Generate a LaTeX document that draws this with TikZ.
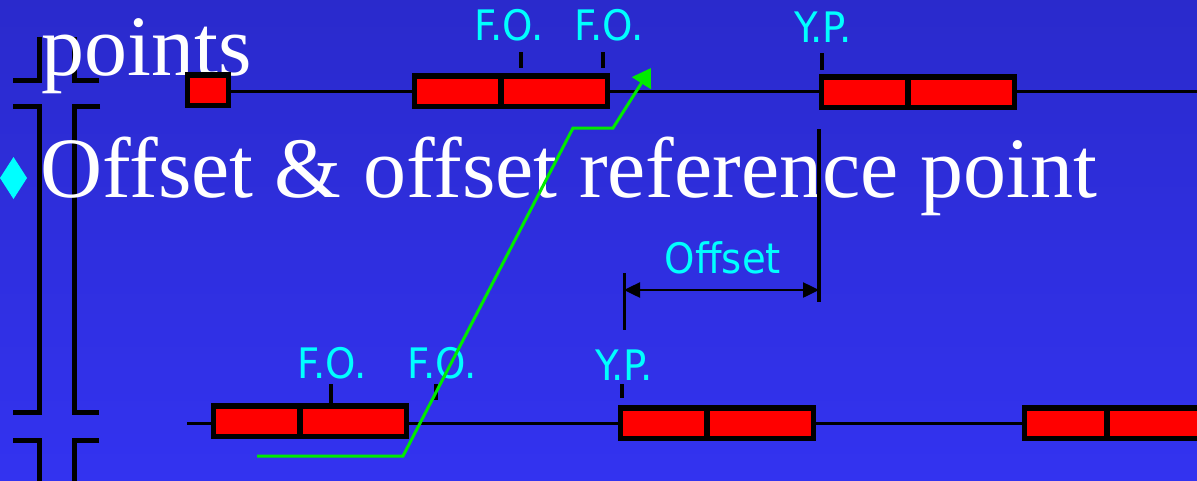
\documentclass[tikz,border=0pt]{standalone}
\usepackage{fontspec}
\setmainfont{Liberation Serif}
\newfontfamily\labfont[FakeStretch=0.92]{DejaVu Sans}
\usetikzlibrary{arrows.meta}
\definecolor{bgtop}{RGB}{42,42,204}
\definecolor{bgbot}{RGB}{51,51,240}
\definecolor{labc}{RGB}{0,255,255}
\definecolor{grn}{RGB}{0,235,0}
\begin{document}
\begin{tikzpicture}[x=1pt,y=-1pt,
  half/.style={draw=black, fill=red, line width=5.5pt, inner sep=0pt, outer sep=0pt, minimum height=30.5pt},
  lab/.style={text=labc, font=\labfont\fontsize{42}{42}\selectfont, inner sep=0pt, anchor=base},
  big/.style={text=white, font=\fontsize{86}{86}\selectfont, inner sep=0pt, anchor=base west},
  tickline/.style={line width=3.5pt},
  rail/.style={line width=3pt},
  brk/.style={line width=5pt, line join=miter},
  greenpath/.style={draw=grn, line width=3pt, line join=miter},
  dimline/.style={line width=2.5pt, {Triangle[length=16pt,width=15pt]}-{Triangle[length=16pt,width=15pt]}}]
\useasboundingbox (0,0) rectangle (1197,480);
\clip (0,0) rectangle (1197,480);
\fill[top color=bgtop, bottom color=bgbot] (0,0) rectangle (1197,480);

% bracket marks at left
\draw[brk] (13,80) -- (39.5,80) -- (39.5,37);
\draw[brk] (99,80) -- (74.5,80) -- (74.5,37);
\draw[brk] (13,106) -- (39.5,106) -- (39.5,412.5) -- (13,412.5);
\draw[brk] (100,106) -- (74.5,106) -- (74.5,412.5) -- (99,412.5);
\draw[brk] (13,440) -- (39.5,440) -- (39.5,490);
\draw[brk] (99,440) -- (74.5,440) -- (74.5,490);

% big text
\node[big] (t1) at (41,75) {points};
\fill[labc] (13.5,157) -- (27,178) -- (13.5,199) -- (0,178) -- cycle;
\node[big] (t2) at (40,197) {Offset \& offset reference point};

% rails
\coordinate (trs) at (231,91);
\coordinate (tre) at (1197,91);
\coordinate (brs) at (187,423);
\coordinate (bre) at (1197,423);
\draw[rail] (trs) -- (tre);
\draw[rail] (brs) -- (bre);

% top boxes
\node[half, minimum width=41pt] (s0) at (208,90) {};
\node[half, minimum width=86.5pt] (a1) at (457.75,91) {};
\node[half, minimum width=106.5pt, anchor=west] (a2) at (a1.east) {};
\node[half, minimum width=86.5pt] (b1) at (864.75,92) {};
\node[half, minimum width=106.5pt, anchor=west] (b2) at (b1.east) {};

% bottom boxes
\node[half, minimum width=86.5pt] (c1) at (256.75,421) {};
\node[half, minimum width=106.5pt, anchor=west] (c2) at (c1.east) {};
\node[half, minimum width=86.5pt] (d1) at (663.75,423) {};
\node[half, minimum width=106.5pt, anchor=west] (d2) at (d1.east) {};
\node[half, minimum width=82.5pt] (e1) at (1065.75,423) {};
\node[half, minimum width=106.5pt, anchor=west] (e2) at (e1.east) {};

% labels
\node[lab] (fo1) at (509,40) {F.O.};
\node[lab] (fo2) at (609,40) {F.O.};
\node[lab] (yp1) at (823,42) {Y.P.};
\node[lab] (fo3) at (332,378) {F.O.};
\node[lab] (fo4) at (442,378) {F.O.};
\node[lab] (yp2) at (624,380) {Y.P.};
\node[lab] (off) at (723,273) {Offset};

% ticks
\draw[tickline] (521,52) -- (521,68);
\draw[tickline] (603,52) -- (603,68);
\draw[tickline] (822,53) -- (822,70);
\draw[tickline] (331,384) -- (331,403);
\draw[tickline] (436,384) -- (436,400);
\draw[tickline] (622,384) -- (622,398);

% offset dimension
\draw[line width=4pt] (819,129) -- (819,302);
\draw[line width=3pt] (624,273) -- (624,330);
\coordinate (oa) at (624,290);
\coordinate (ob) at (819,290);
\draw[dimline] (oa) -- (ob);

% green path
\coordinate (g0) at (257,456);
\coordinate (g1) at (403,456);
\coordinate (g2) at (573,128);
\coordinate (g3) at (613,128);
\coordinate (g4) at (651,68);
\draw[greenpath, -{Triangle[length=18pt,width=22pt]}] (g0) -- (g1) -- (g2) -- (g3) -- (g4);
\end{tikzpicture}
\end{document}
